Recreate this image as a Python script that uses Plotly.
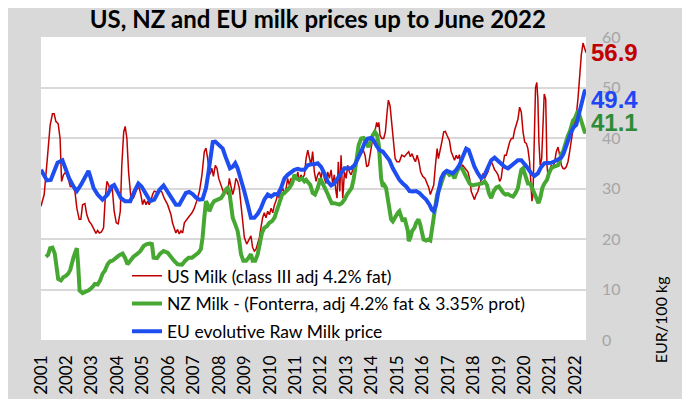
import plotly.graph_objects as go

# ---- data (month index since Jan 2001, value in EUR/100 kg) ----
us_month = [0, 1.5, 3, 4.3, 5.4, 6.2, 7, 8.1, 9, 9.7, 10.6, 11.7, 12.8, 13.8, 14.9, 16, 16.9, 18, 18.8, 19.6,
            20.7, 21.6, 22.7, 23.8, 25, 25.9, 26.7, 27.5, 28.5, 29.5, 30.3, 31.1, 31.9, 32.6, 33.6, 34.5, 35.5,
            36.4, 37.4, 38.1, 39, 39.7, 40.5, 41.3, 42.4, 43.6, 44.8, 45.5, 46.3, 47.1, 47.9, 48.7, 49.5, 50.3,
            51, 51.8, 52.6, 53.4, 54.2, 55, 55.8, 56.9, 58.1, 59.7, 61.3, 62, 62.8, 63.6, 64.4, 65.2, 66, 66.8,
            67.6, 68.7, 69.9, 71.2, 72.3, 73.4, 74.7, 75.9, 77, 77.8, 78.6, 79.4, 80.2, 80.6, 81.3, 82.2, 83,
            83.8, 84.9, 85.7, 86.4, 87.2, 88, 88.8, 89.6, 90.4, 91.2, 91.9, 92.7, 93.5, 94.3, 95.1, 95.9, 97,
            98, 99, 99.8, 100.6, 101.4, 102.2, 103, 103.7, 104.5, 105.3, 106.1, 106.9, 107.7, 108.5, 109.3,
            110.1, 110.8, 111.6, 112.4, 113.2, 114, 114.8, 115.6, 116.3, 117.1, 117.9, 118.7, 119.5, 120.3,
            121.1, 121.8, 122.6, 123.4, 124.2, 125, 125.8, 126.6, 127.3, 128.1, 128.9, 129.7, 130.5, 131.3,
            132.1, 132.8, 133.6, 134.4, 135.2, 136, 136.8, 137.6, 138.3, 139.1, 139.6, 140.2, 140.9, 141.5,
            142.3, 143.1, 143.9, 144.6, 145.4, 146.2, 147, 147.8, 148.6, 149.4, 150.2, 151, 151.7, 152.8,
            153.6, 154.4, 155.4, 156.1, 156.9, 157.7, 158.3, 158.8, 159.3, 159.9, 160.7, 161.6, 162.4, 163.2,
            163.8, 164.6, 165.4, 166.2, 167, 167.9, 169, 170.1, 171.4, 172.5, 173.4, 174.2, 175, 175.8, 176.6,
            177.4, 178.2, 179, 180, 181.1, 182.1, 182.9, 183.6, 184.4, 185.2, 186, 186.8, 187.4, 188.2, 189,
            189.9, 190.7, 191.5, 192.6, 193.4, 194.2, 195, 195.8, 196.5, 197.3, 198.1, 198.9, 199.7, 200.5,
            201.3, 202.1, 202.9, 203.6, 204.4, 205.2, 206, 206.8, 207.6, 208.4, 209.2, 210, 210.8, 211.5,
            212.3, 213.1, 213.9, 214.7, 215.5, 216.3, 217, 217.8, 218.6, 219.4, 220.2, 221, 221.8, 222.6,
            223.3, 224.1, 224.9, 225.7, 226.5, 227.3, 228.1, 228.9, 229.6, 230.4, 230.9, 231.5, 232, 232.6,
            233.2, 233.8, 234.3, 234.8, 235.4, 236.1, 236.7, 237.3, 238, 238.6, 239.2, 239.8, 240.6, 241.4,
            242.2, 243, 243.8, 244.6, 245.4, 246.1, 246.9, 247.7, 248.5, 249.3, 250.1, 250.9, 251.7, 252.4,
            253.2, 254, 254.8, 255.6, 256.4, 257]
us_value = [26.5, 28.8, 36, 42.5, 44.8, 44.8, 43.3, 42.8, 39.9, 31.4, 32.7, 33.3, 32, 30.4, 30.4, 29.4, 26.1, 23.9,
            23.9, 26.8, 27, 24.8, 23.5, 22.9, 21.9, 21.1, 21.7, 21.2, 21.4, 22.2, 28.1, 31.4, 30.7, 29.4, 30.1,
            25.5, 23.2, 23, 25.5, 34.6, 41.2, 42.3, 39.9, 33.3, 28.1, 28.1, 29.4, 30.1, 30.1, 28.8, 26.8, 27.8,
            26.8, 27.5, 26.8, 27.5, 28.8, 29.5, 29.4, 28.8, 29.5, 29.4, 28.1, 26.8, 24.8, 23.2, 22.2, 21.2, 21.9,
            21, 21.6, 21.2, 23.2, 23.9, 24.5, 25.2, 26.1, 27.5, 29.4, 32.7, 37.3, 38, 35.9, 32.7, 33.3, 34, 32.4,
            34.6, 34, 32, 30.7, 29.4, 28.8, 30.1, 28.8, 32, 30.1, 28.8, 30.1, 32, 31.4, 30.1, 26.8, 23.5, 20.3,
            19, 19.9, 20.6, 18.3, 17.6, 18, 19, 20.3, 22.2, 24.2, 25.2, 24.2, 25.5, 24.8, 26.1, 25.2, 26.8, 27.5,
            28.8, 28.1, 29.4, 30.1, 28.8, 30.1, 32, 30.7, 32, 31.4, 32.7, 31.7, 33.3, 31.4, 32.7, 32, 32.7, 35.9,
            37.6, 35.9, 34.6, 37.3, 33.3, 31.4, 32.7, 33.3, 32, 34, 32, 31, 33.3, 32, 33.7, 30.7, 32.7, 29.4,
            28.1, 35.3, 29.4, 36.6, 28.1, 33.3, 32, 34.6, 33.3, 32.7, 33.7, 34.6, 35.3, 36.3, 37.3, 37.6, 37.9,
            36.6, 34.3, 34.6, 37.3, 39.2, 41.2, 41.8, 43.1, 42.2, 43.1, 40.5, 39.9, 39.9, 41.2, 45.1, 47.5, 46.4,
            42.5, 38.6, 35.9, 35.3, 35.3, 36.6, 36.3, 36.9, 37.3, 36.3, 36.9, 35.9, 35.3, 36.6, 35.3, 33.3, 32.4,
            32, 31, 30.1, 28.8, 29.7, 30.7, 34.6, 37.9, 35.9, 37.3, 39.2, 41.2, 41.3, 40.5, 39.5, 37.3, 36.6,
            35.6, 36.6, 35.9, 36.7, 34, 34.6, 34, 33.7, 33.3, 32, 29.4, 28.8, 27.8, 28.8, 29.4, 30.7, 32, 33, 32,
            32.7, 33.3, 34.6, 35.3, 34.6, 33.7, 33.3, 32.7, 31.4, 32, 34.6, 36.6, 36.6, 37.9, 39.2, 39.9, 39.9,
            41.5, 42.5, 43.7, 46.1, 45.1, 41.2, 39.2, 38.9, 37.9, 35.3, 32, 27.5, 28.8, 41.2, 50, 51, 47.7, 39.2,
            34.6, 35.9, 44.4, 48.7, 47.7, 34.6, 32, 33.3, 34.6, 34, 35.3, 37.3, 38.2, 36.6, 34.6, 34, 33.9, 34.3,
            35.3, 37.3, 39.9, 41.8, 43.1, 44.4, 47.7, 52.9, 56.5, 58.8, 57.8, 56.9]

nz_month = [2.3, 3.4, 4.3, 5.4, 6.5, 7.3, 8.1, 9.4, 10.5, 11.7, 12.8, 13.8, 14.6, 15.3, 16.1, 16.9, 17.5, 18.2,
            19.6, 21.2, 22.7, 24.3, 25.4, 26.7, 27.9, 29, 30.1, 31.4, 32.6, 33.7, 35.3, 36.9, 38.5, 39.6, 40.8,
            42.1, 43.6, 45.2, 46.8, 48.4, 49.9, 51.5, 52.3, 53.1, 54.7, 56.2, 57.8, 59.7, 61.3, 62.9, 64.4, 65.2,
            66.5, 68, 69.6, 71.2, 72.8, 74.3, 75.4, 76.2, 77, 77.8, 78.6, 79.4, 80.6, 81.7, 83.3, 84.9, 86, 87,
            88, 88.8, 89.6, 90.4, 91.6, 92.7, 93.5, 94.3, 95.4, 96.7, 97.9, 99, 99.8, 101, 102.2, 103.3, 104.2,
            105.3, 106.4, 107.7, 108.9, 110.1, 111.1, 112.4, 113.7, 114.8, 115.9, 117.1, 118.4, 119.5, 120.6,
            121.8, 123.1, 124.2, 125, 125.8, 127, 128.1, 129.2, 130.5, 131.7, 132.8, 134, 135, 136, 137.1,
            138.3, 139.6, 140.7, 141.8, 143.1, 144.3, 145.4, 146.5, 147.5, 148.3, 149, 149.8, 151, 152.2,
            153.3, 154.4, 155.4, 156.4, 157.5, 158.5, 159.3, 159.9, 160.4, 161.2, 161.9, 162.7, 163.5, 164.3,
            165.1, 165.9, 166.7, 167.5, 168.3, 169, 169.8, 170.6, 171.4, 172.2, 173, 173.4, 174.2, 175, 176.1,
            176.9, 178, 178.8, 179.6, 180.4, 181.6, 182.7, 183.6, 184.3, 185.1, 185.9, 186.8, 188, 189, 190.3,
            191.5, 192.6, 193.9, 195, 196.1, 197.3, 198.6, 199.7, 200.8, 202.1, 203.3, 204.4, 205.5, 206.8,
            208, 209.2, 210.3, 211.2, 212.3, 213.4, 214.7, 215.9, 217, 218.1, 219.1, 220.2, 221.3, 222.6,
            223.8, 224.9, 225.7, 226.5, 227.3, 228.1, 228.9, 229.6, 230.7, 231.7, 232.7, 233.8, 234.6, 235.4,
            236.4, 237.4, 238.6, 239.5, 240.6, 241.7, 243, 243.8, 244.6, 245.4, 246.2, 247, 247.7, 248.5,
            249.3, 250.1, 250.9, 251.7, 252.4, 253.2, 254, 254.8, 255.6, 256.4, 257]
nz_value = [16.5, 16.9, 18.2, 18.3, 17.1, 13.7, 12.1, 11.8, 12.4, 12.7, 13.1, 13.9, 15.4, 16.3, 17.3, 18.2, 15, 9.8,
            9.3, 9.6, 9.9, 10.5, 11.1, 11, 11.8, 13.1, 13.7, 15, 15.6, 15.7, 16.3, 16.8, 17.1, 16.3, 15, 15.7,
            16.5, 17, 17.6, 18.6, 19, 19.1, 19, 16.3, 16.2, 17.1, 17.6, 17.3, 16.3, 15.6, 15, 15, 14.9, 15.7,
            16.3, 16.3, 16.7, 17.3, 18, 20.3, 24.2, 27.5, 26.8, 25.5, 26.8, 27.5, 27.8, 28.1, 28.8, 29.7, 30.1,
            29.4, 26.8, 24.2, 22.9, 21.6, 19.6, 17, 15.7, 15.7, 16.3, 17, 15.7, 15.7, 17, 19, 21.2, 22.2, 22.5,
            23.2, 23.5, 24.2, 25.5, 27.5, 28.8, 29.1, 29.5, 30.1, 31, 32.7, 32, 31.7, 32, 31.4, 31.7, 31.2, 30.7,
            29.1, 28.8, 30.1, 32, 31, 30.1, 29.1, 28.1, 27.1, 27.1, 26.9, 26.8, 27.1, 27.8, 28.8, 29.5, 30.1, 32,
            34, 36.6, 38.6, 39.9, 40, 39.2, 38.2, 39.2, 40.5, 41.2, 40.5, 38.6, 35.3, 32, 30.4, 30.7, 30.1, 28.1,
            25.8, 23.9, 23.5, 24.2, 24.5, 25.2, 25.5, 24.5, 23.5, 24.2, 23.2, 21.6, 19.6, 20.3, 21.6, 22.2, 23.2,
            23.9, 22.9, 20.9, 19.9, 19.7, 19.9, 19.7, 21.6, 24.2, 26.8, 28.8, 30.1, 31.7, 33, 33.3, 32.7, 33, 32,
            33.3, 34.3, 33.9, 33, 32, 31, 30.6, 30.7, 30.6, 30.8, 31, 31.4, 30.7, 29.1, 28.1, 29.4, 30.2, 30.4,
            29.7, 29.1, 28.8, 28.9, 28.6, 28.4, 29.1, 30.1, 32, 33.7, 34, 32.7, 31.4, 31, 31, 30.1, 28.8, 28.1,
            27.1, 28.1, 30.1, 31, 31.7, 33, 34, 34.3, 34.6, 34.6, 35.6, 36.9, 37.3, 38.6, 39.9, 40.5, 41.2, 42.5,
            43.5, 43.8, 44.8, 45.4, 44.4, 43.5, 42.5, 41.2, 41.1]

eu_month = [0, 1.5, 2.8, 4.6, 6.2, 7.8, 10.1, 11.7, 13.3, 15.3, 16.9, 18.8, 21.2, 22.4, 23.5, 24.8, 26.7, 29,
            31.4, 33.3, 34.5, 36.1, 37.7, 39.6, 42.1, 44, 45.9, 47.4, 49.5, 51.5, 53.4, 55.8, 57.8, 59.7, 62,
            63.6, 65.2, 66.8, 68.3, 69.9, 71.5, 73.1, 74.7, 76.2, 77.8, 79, 80.2, 81, 82.2, 83.8, 85.7, 87, 88,
            89.1, 90.4, 91.6, 92.7, 94.3, 95.9, 97.5, 99, 100.6, 102.2, 103.7, 105.3, 106.9, 108.5, 110.1,
            111.6, 113.2, 114.8, 116.3, 117.9, 119.5, 121.1, 122.6, 124.2, 125.8, 127.3, 128.9, 130.5, 132.1,
            133.6, 135.2, 136.8, 138.3, 139.9, 141.5, 143.1, 144.6, 146.2, 147.8, 149.4, 151, 152.5, 154.1,
            155.7, 156.9, 158, 159.6, 161.2, 162.7, 164.3, 165.9, 167.5, 169, 170.6, 172.2, 173.8, 175.3,
            176.9, 178.5, 180.1, 181.6, 183.2, 184.3, 185.2, 186.3, 187.4, 188.7, 189.9, 191.3, 192.6, 194.2,
            195.8, 197.3, 198.9, 200.5, 201.7, 202.9, 204.4, 206, 207.6, 209.2, 210.8, 212.3, 213.9, 215.5,
            217, 218.6, 220.2, 221.8, 223.3, 224.9, 226.5, 228.1, 229.6, 231.2, 232.7, 234.3, 235.9, 237.4,
            239, 240.6, 242.2, 243.7, 245.3, 246.4, 247.7, 248.9, 250, 251.3, 252.4, 253.2, 254, 254.8, 255.6,
            256.4, 257]
eu_value = [33.7, 32.4, 31.6, 31.7, 33.7, 35.1, 35.6, 33.7, 32, 30.4, 29.5, 30.7, 32.7, 33.5, 32, 30.1, 28.8,
            27.8, 28.8, 30.4, 30.7, 29.5, 28.1, 27.5, 27.5, 29.4, 31, 30.4, 28.8, 27.5, 27.8, 29.7, 30.6, 29.4,
            27.8, 26.8, 26.8, 28.1, 29.1, 29.3, 28.9, 28.2, 27.8, 27.9, 30.1, 33.3, 37.3, 39.2, 39.3, 38.7, 37.9,
            36.3, 35, 34, 34.3, 35, 34, 32, 29.4, 26.8, 24.2, 24.2, 25, 26.1, 27.8, 28.8, 28.4, 28.9, 28.8, 30.1,
            32, 32.7, 33.2, 33.7, 33.9, 33.7, 33.7, 34.6, 34.8, 34.8, 35, 34.3, 33, 31.4, 30.6, 31, 32, 33, 34,
            34, 34, 34.6, 35.9, 37.3, 38.9, 39.9, 40, 39.5, 38.6, 37.6, 37.3, 36.6, 35.6, 34, 32.7, 31.7, 31,
            30.4, 29.5, 29.4, 29.5, 29.1, 28.4, 27.8, 26.8, 25.8, 25.5, 26.8, 29.4, 32, 33, 33.5, 33.3, 33, 33.7,
            34.6, 36.3, 37.9, 37.6, 35.9, 34.3, 33, 32, 32.7, 34, 35.6, 36.1, 35.4, 34.8, 34.3, 34, 34.6, 35.1,
            35.6, 35.6, 34.9, 34, 33, 32.5, 33, 34.3, 35, 35, 35.1, 35.4, 35.8, 36.1, 36.9, 38.2, 39.9, 41.2,
            42.2, 42.6, 43.8, 45.1, 46.7, 48, 49.3, 49.4]

series_names = ["US Milk (class III adj 4.2% fat)",
                "NZ Milk - (Fonterra, adj 4.2% fat & 3.35% prot)",
                "EU evolutive Raw Milk price"]
year_ticks = list(range(2001, 2023))

# ---- styles ----
RED, GREEN, BLUE = "#c00000", "#46a832", "#1f4ef0"
LABEL_COLORS = ["#c00000", "#1f45f5", "#2e8b35"]
LABEL_Y = [57.0, 47.7, 43.0]  # label anchor positions (placement only)

W, H = 690, 399
L, R, T, B = 33, 112, 29, 64
PW, PH = W - L - R, H - T - B


def to_year(months):
    return [2001 + m / 12 for m in months]


fig = go.Figure()
fig.add_trace(go.Scatter(x=to_year(us_month), y=us_value, mode="lines", name=series_names[0],
                         line=dict(color=RED, width=1.5), legendgroup="a"))
fig.add_trace(go.Scatter(x=to_year(nz_month), y=nz_value, mode="lines", name=series_names[1],
                         line=dict(color=GREEN, width=4), legendgroup="b"))
fig.add_trace(go.Scatter(x=to_year(eu_month), y=eu_value, mode="lines", name=series_names[2],
                         line=dict(color=BLUE, width=4), legendgroup="c"))

last_vals = [us_value[-1], eu_value[-1], nz_value[-1]]
for val, col, ly in zip(last_vals, LABEL_COLORS, LABEL_Y):
    fig.add_annotation(x=1.0, xref="paper", xshift=3, y=ly, yref="y", text=f"<b>{val:.1f}</b>",
                       showarrow=False, xanchor="left", yanchor="middle",
                       font=dict(family="Liberation Sans, Arial, sans-serif", size=24, color=col))

fig.add_annotation(x=(652 - L) / PW, xref="paper", y=(H - B - 315) / PH, yref="paper", text="EUR/100 kg",
                   showarrow=False, textangle=-90, xanchor="center", yanchor="middle",
                   font=dict(family="Lato, sans-serif", size=16, color="black"))

fig.update_layout(
    width=W, height=H,
    margin=dict(l=L, r=R, t=T, b=B, pad=0),
    paper_bgcolor="#d9d9d9", plot_bgcolor="white",
    font=dict(family="Lato, sans-serif", color="black"),
    title=dict(text="<b>US, NZ and EU milk prices up to June 2022</b>", x=0.449, xref="container",
               xanchor="center", y=1 - 3 / H, yref="container", yanchor="top",
               font=dict(family="Lato, sans-serif", size=24, color="black")),
    showlegend=True,
    legend=dict(x=(119 - L) / PW, xanchor="left", y=(H - B - 252) / PH, yanchor="top",
                bgcolor="rgba(0,0,0,0)", font=dict(family="Lato, sans-serif", size=17.5, color="black"),
                traceorder="grouped", tracegroupgap=2, itemwidth=30),
    xaxis=dict(range=[2001, 2001 + 257 / 12], tickvals=year_ticks, ticktext=[str(y) for y in year_ticks],
               tickangle=-90, showgrid=False, zeroline=False, showline=False, ticks="",
               ticklabelstandoff=11, tickfont=dict(family="Lato, sans-serif", size=17, color="black")),
    yaxis=dict(range=[0, 60], side="right", dtick=10, showgrid=True, gridcolor="#d9d9d9", gridwidth=1.5,
               zeroline=False, showline=False, ticks="", ticklabelstandoff=15,
               tickfont=dict(family="Lato, sans-serif", size=16, color="#a6a6a6")),
)

fig.write_html("out.html")
